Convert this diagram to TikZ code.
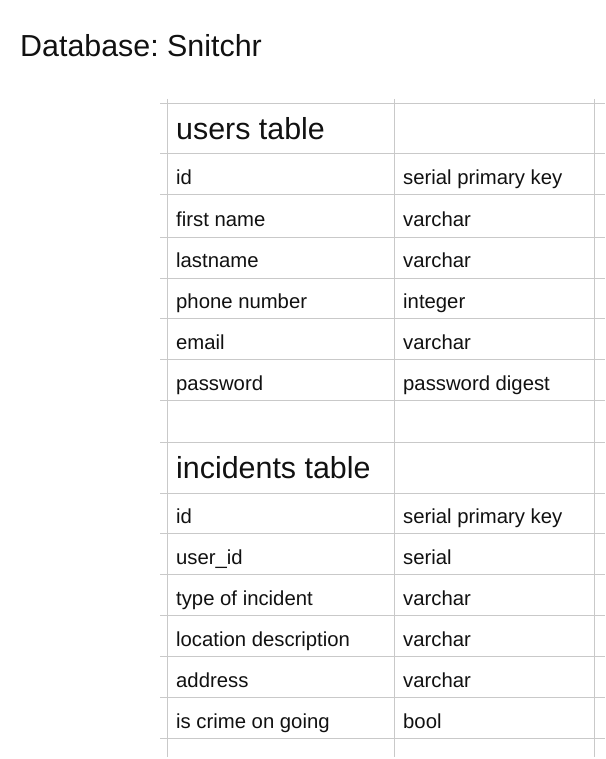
\documentclass[tikz,border=0pt]{standalone}
\usepackage{fontspec}
\setmainfont{Liberation Sans}
\frenchspacing
\definecolor{gridc}{HTML}{C9C9C9}
\definecolor{txt}{HTML}{111111}
\begin{document}
\begin{tikzpicture}[x=1pt,y=-1pt,
  gridline/.style={draw=gridc,line width=1pt},
  cell/.style={anchor=base west,inner sep=0pt,text=txt,font=\fontsize{20.3}{24}\selectfont},
  head/.style={anchor=base west,inner sep=0pt,text=txt,font=\fontsize{30.4}{36}\selectfont}]
\useasboundingbox[fill=white] (0,0) rectangle (605,759);
% grid
\foreach \y in {104,154,195,237,278,318,359,400,442,493,533,574,615,656,697,738}
  \draw[gridline] (160,\y) -- (605,\y);
\foreach \x in {167,394,594}
  \draw[gridline] (\x,99) -- (\x,757);
% title
\node[head] (title) at (20,57) {Database: Snitchr};
% users table
\node[head] (uh) at (176,140) {users table};
\node[cell] (u1a) at (176,185) {id};            \node[cell] (u1b) at (403,185) {serial primary key};
\node[cell] (u2a) at (176,226) {first name};    \node[cell] (u2b) at (403,226) {varchar};
\node[cell] (u3a) at (176,267) {lastname};      \node[cell] (u3b) at (403,267) {varchar};
\node[cell] (u4a) at (176,308) {phone number};  \node[cell] (u4b) at (403,308) {integer};
\node[cell] (u5a) at (176,349) {email};         \node[cell] (u5b) at (403,349) {varchar};
\node[cell] (u6a) at (176,390) {password};      \node[cell] (u6b) at (403,390) {password digest};
% incidents table
\node[head] (ih) at (176,478) {incidents table};
\node[cell] (i1a) at (176,523) {id};                   \node[cell] (i1b) at (403,523) {serial primary key};
\node[cell] (i2a) at (176,564) {user\_id};             \node[cell] (i2b) at (403,564) {serial};
\node[cell] (i3a) at (176,605) {type of incident};     \node[cell] (i3b) at (403,605) {varchar};
\node[cell] (i4a) at (176,646) {location description}; \node[cell] (i4b) at (403,646) {varchar};
\node[cell] (i5a) at (176,687) {address};              \node[cell] (i5b) at (403,687) {varchar};
\node[cell] (i6a) at (176,728) {is crime on going};    \node[cell] (i6b) at (403,728) {bool};
\end{tikzpicture}
\end{document}
